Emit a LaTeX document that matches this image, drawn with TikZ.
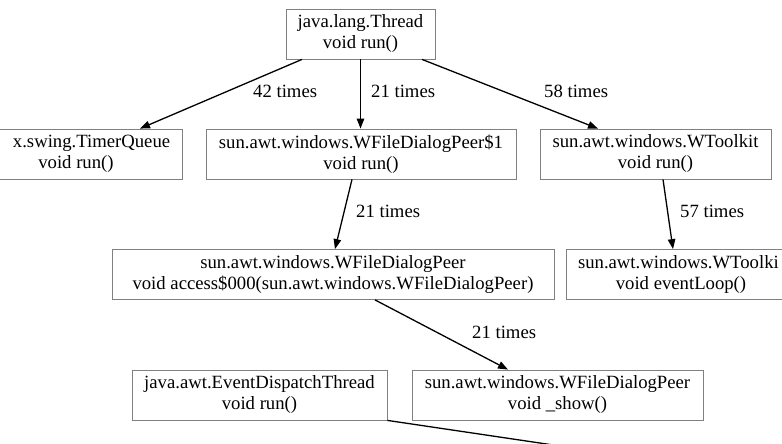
\documentclass[tikz,border=0pt]{standalone}
\usepackage{fontspec}
\setmainfont{Liberation Serif}
\usetikzlibrary{arrows.meta}

\tikzset{
  method/.style={draw=black!50, line width=0.8pt, align=center, minimum height=50pt,
    inner sep=0pt, font=\fontsize{18.7}{21}\selectfont},
  call/.style={draw=black, line width=1.3pt, -{Triangle[length=10pt,width=7.5pt]}},
  count/.style={anchor=base west, inner sep=0pt, font=\fontsize{18.7}{21}\selectfont},
}

\begin{document}
\begin{tikzpicture}[x=1pt, y=-1pt]
  \useasboundingbox (0,0) rectangle (782,444);
  \clip (0,0) rectangle (782,444);

  % Call sites, one row per depth
  \node[method, minimum width=149pt] (thread) at (360.5,34) {java.lang.Thread\\void run()};

  \node[method, minimum width=212pt] (timer) at (76,154) {\phantom{java}x.swing.TimerQueue\\void run()};
  \node[method, minimum width=310pt] (dlg1) at (361,154) {sun.awt.windows.WFileDialogPeer\$1\\void run()};
  \node[method, minimum width=231pt] (toolkit) at (655.5,154) {sun.awt.windows.WToolkit\\void run()};

  \node[method, minimum width=442pt] (access) at (333,274.5) {sun.awt.windows.WFileDialogPeer\\void access\$000(sun.awt.windows.WFileDialogPeer)};
  \node[method, minimum width=230pt] (loop) at (681,274.5) {sun.awt.windows.WToolki\phantom{t}\\void eventLoop()};

  \node[method, minimum width=255pt] (edt) at (259.5,395) {java.awt.EventDispatchThread\\void run()};
  \node[method, minimum width=291pt] (show) at (557.5,395) {sun.awt.windows.WFileDialogPeer\\void \_show()};

  % Calls between them
  \draw[call] ([xshift=-58.5pt]thread.south) -- ([xshift=64pt]timer.north);
  \draw[call] (thread.south) -- (thread.south |- dlg1.north);
  \draw[call] ([xshift=61.5pt]thread.south) -- ([xshift=-57.5pt]toolkit.north);
  \draw[call] ([xshift=-9pt]dlg1.south) -- ([xshift=2pt]access.north);
  \draw[call] ([xshift=7.5pt]toolkit.south) -- ([xshift=-8pt]loop.north);
  \draw[call] ([xshift=42pt]access.south) -- ([xshift=-49.5pt]show.north);

  % Edge leaving the visible area
  \coordinate (offpage) at (560,446);
  \draw[draw=black, line width=1.3pt] (edt.south east) -- (offpage);

  % Call counts
  \node[count] (c1) at (253,97) {42 times};
  \node[count] (c2) at (371,97) {21 times};
  \node[count] (c3) at (544,97) {58 times};
  \node[count] (c4) at (356,217) {21 times};
  \node[count] (c5) at (680,217) {57 times};
  \node[count] (c6) at (472,338) {21 times};
\end{tikzpicture}
\end{document}
